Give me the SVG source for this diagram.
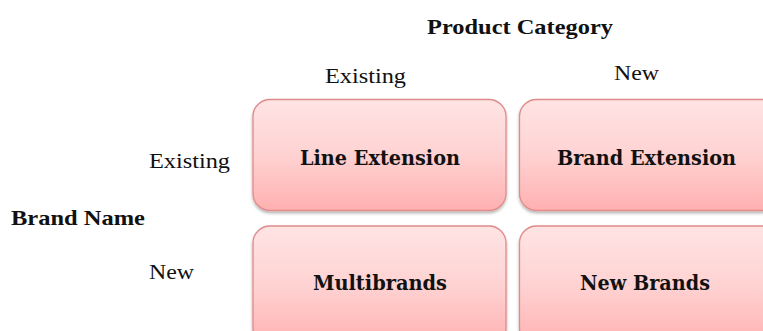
<svg xmlns="http://www.w3.org/2000/svg" width="763" height="331" viewBox="0 0 763 331">
<defs>
<linearGradient id="g" x1="0" y1="0" x2="0" y2="1">
<stop offset="0" stop-color="#ffe4e4"/>
<stop offset="0.5" stop-color="#ffd2d2"/>
<stop offset="1" stop-color="#ffb0b0"/>
</linearGradient>
<filter id="sh" x="-10%" y="-10%" width="120%" height="130%">
<feDropShadow dx="0" dy="2" stdDeviation="1.5" flood-color="#000" flood-opacity="0.3"/>
</filter>
</defs>
<style>
.box{fill:url(#g);stroke:#e08a8a;stroke-width:1.3;filter:url(#sh)}
.bt{font-family:"DejaVu Serif","Liberation Serif",serif;font-weight:bold;font-size:20px;fill:#111;text-anchor:middle}
.lb{font-family:"Liberation Serif","DejaVu Serif",serif;font-size:21px;fill:#111}
.lbb{font-family:"Liberation Serif","DejaVu Serif",serif;font-size:21px;font-weight:bold;fill:#111}
</style>
<rect width="763" height="331" fill="#fff"/>
<text class="lbb" x="427" y="34" textLength="186" lengthAdjust="spacingAndGlyphs">Product Category</text>
<text class="lb" x="325" y="83" textLength="81" lengthAdjust="spacingAndGlyphs">Existing</text>
<text class="lb" x="614" y="80" textLength="45" lengthAdjust="spacingAndGlyphs">New</text>
<text class="lb" x="149" y="168" textLength="81" lengthAdjust="spacingAndGlyphs">Existing</text>
<text class="lbb" x="11" y="225" textLength="134" lengthAdjust="spacingAndGlyphs">Brand Name</text>
<text class="lb" x="149" y="279" textLength="45" lengthAdjust="spacingAndGlyphs">New</text>
<g id="connectors"></g>
<g id="line-extension">
<rect class="box" x="253" y="99.5" width="253" height="111" rx="17"/>
<text class="bt" x="380" y="165" textLength="160" lengthAdjust="spacingAndGlyphs">Line Extension</text>
</g>
<g id="brand-extension">
<rect class="box" x="519.5" y="99.5" width="260" height="111" rx="17"/>
<text class="bt" x="646.5" y="165" textLength="179" lengthAdjust="spacingAndGlyphs">Brand Extension</text>
</g>
<g id="multibrands">
<rect class="box" x="253" y="226" width="253" height="120" rx="17"/>
<text class="bt" x="380" y="290" textLength="134" lengthAdjust="spacingAndGlyphs">Multibrands</text>
</g>
<g id="new-brands">
<rect class="box" x="519.5" y="226" width="260" height="120" rx="17"/>
<text class="bt" x="645" y="290" textLength="130" lengthAdjust="spacingAndGlyphs">New Brands</text>
</g>
</svg>
